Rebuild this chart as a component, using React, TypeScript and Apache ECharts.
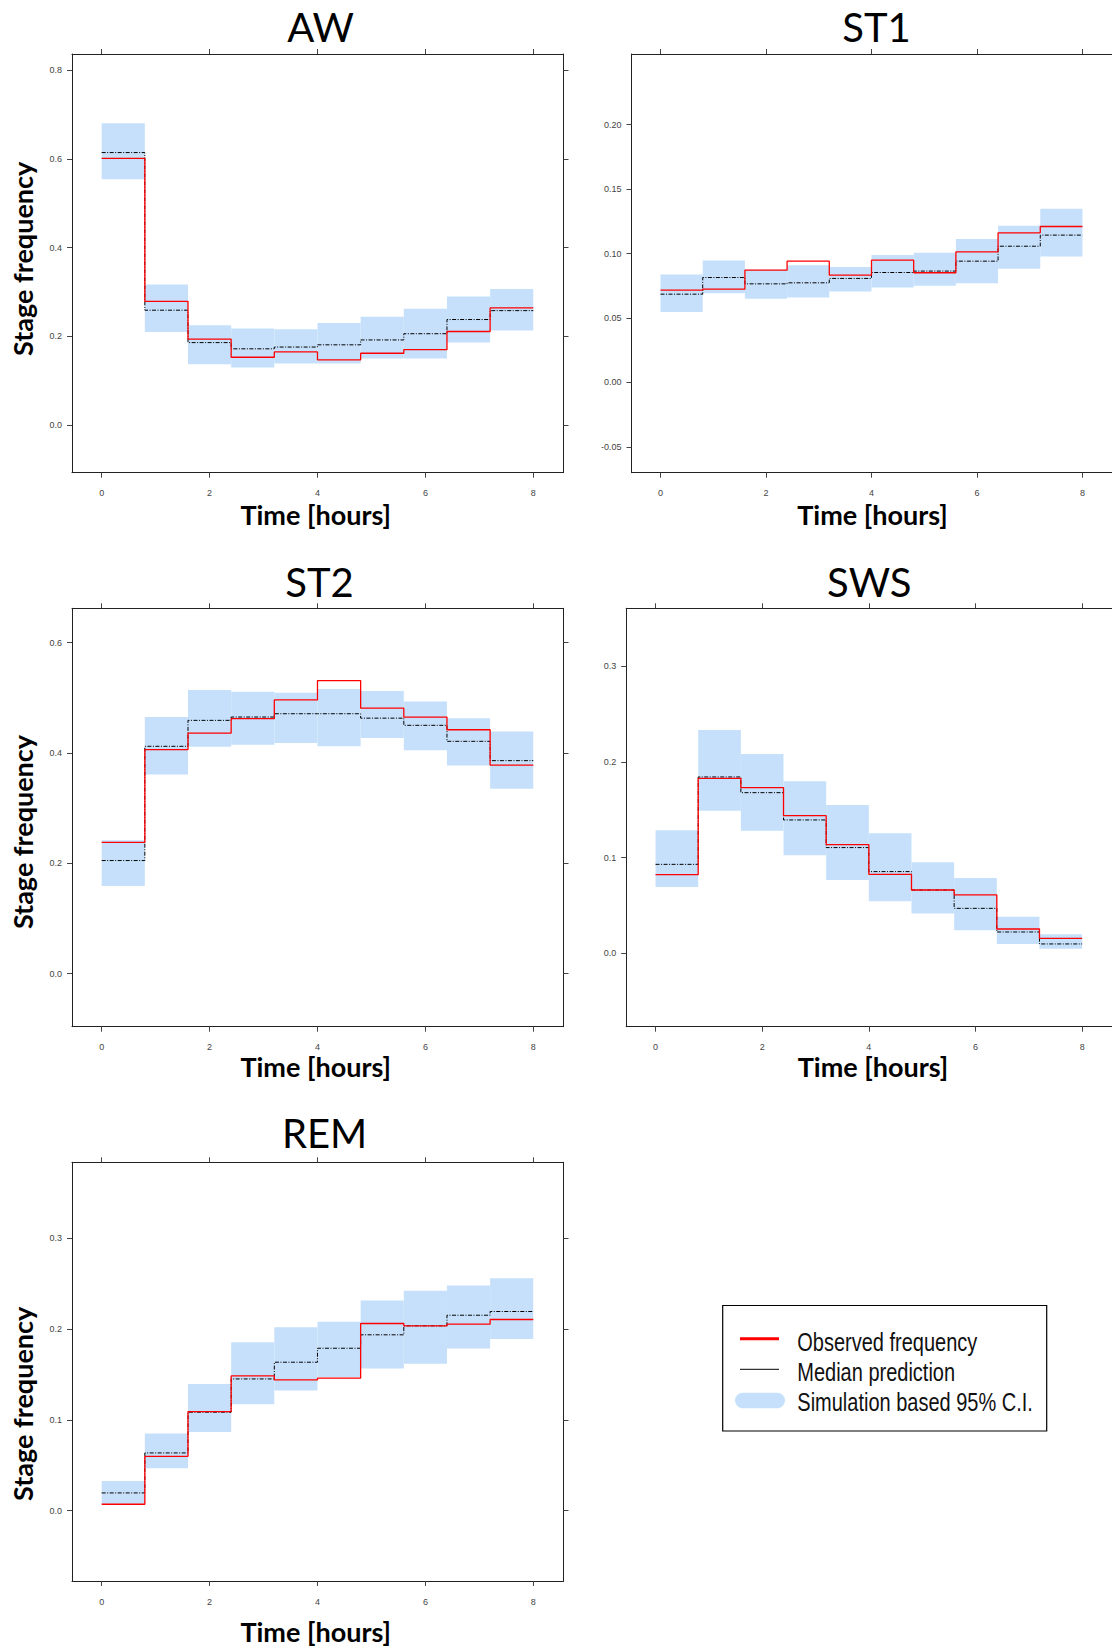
import React, { useEffect, useRef } from "react";
import * as echarts from "echarts";

// ---- data ----
const binEdges = [0, 0.8, 1.6, 2.4, 3.2, 4.0, 4.8, 5.6, 6.4, 7.2, 8.0];
const xTicks = [0, 2, 4, 6, 8];

const awObserved = [0.601, 0.279, 0.194, 0.153, 0.165, 0.147, 0.162, 0.17, 0.211, 0.264];
const awMedian = [0.614, 0.259, 0.186, 0.172, 0.176, 0.181, 0.192, 0.206, 0.238, 0.258];
const awLower = [0.554, 0.21, 0.137, 0.13, 0.139, 0.139, 0.15, 0.15, 0.186, 0.213];
const awUpper = [0.68, 0.317, 0.225, 0.218, 0.216, 0.23, 0.244, 0.262, 0.29, 0.307];
const awTicks = [0, 0.2, 0.4, 0.6, 0.8];

const st1Observed = [0.0716, 0.0724, 0.0871, 0.0941, 0.0832, 0.0949, 0.0851, 0.1013, 0.1161, 0.121];
const st1Median = [0.0685, 0.0814, 0.0765, 0.0773, 0.0807, 0.0853, 0.0864, 0.0941, 0.1057, 0.1143];
const st1Lower = [0.0546, 0.0693, 0.0649, 0.0659, 0.0706, 0.0737, 0.075, 0.077, 0.0882, 0.0977];
const st1Upper = [0.0838, 0.0946, 0.0874, 0.091, 0.0895, 0.0988, 0.1006, 0.1112, 0.1215, 0.1347];
const st1Ticks = [-0.05, 0, 0.05, 0.1, 0.15, 0.2];

const st2Observed = [0.238, 0.406, 0.436, 0.462, 0.496, 0.531, 0.481, 0.465, 0.442, 0.378];
const st2Median = [0.205, 0.412, 0.459, 0.465, 0.471, 0.471, 0.463, 0.45, 0.421, 0.386];
const st2Lower = [0.159, 0.361, 0.411, 0.415, 0.418, 0.412, 0.427, 0.405, 0.377, 0.335];
const st2Upper = [0.242, 0.465, 0.514, 0.511, 0.509, 0.516, 0.512, 0.493, 0.463, 0.439];
const st2Ticks = [0, 0.2, 0.4, 0.6];

const swsObserved = [0.0822, 0.1829, 0.1732, 0.1439, 0.1136, 0.0826, 0.0662, 0.061, 0.0254, 0.0157];
const swsMedian = [0.093, 0.1843, 0.1679, 0.1394, 0.1105, 0.0854, 0.0662, 0.047, 0.0223, 0.0098];
const swsLower = [0.0693, 0.1491, 0.1282, 0.1024, 0.0767, 0.0544, 0.0415, 0.024, 0.0098, 0.0049];
const swsUpper = [0.1286, 0.2334, 0.2084, 0.1798, 0.1551, 0.1254, 0.0951, 0.0787, 0.0383, 0.0199];
const swsTicks = [0, 0.1, 0.2, 0.3];

const remObserved = [0.007, 0.0599, 0.1092, 0.1485, 0.1441, 0.146, 0.2063, 0.2037, 0.2055, 0.2107];
const remMedian = [0.0195, 0.0636, 0.1085, 0.1452, 0.1636, 0.179, 0.1938, 0.2037, 0.2154, 0.2195];
const remLower = [0.0074, 0.0467, 0.0868, 0.1173, 0.1324, 0.1471, 0.1566, 0.1618, 0.1787, 0.1893];
const remUpper = [0.0327, 0.0849, 0.1397, 0.1857, 0.2022, 0.2081, 0.2316, 0.2423, 0.2482, 0.2563];
const remTicks = [0, 0.1, 0.2, 0.3];

const panelNames = ["AW", "ST1", "ST2", "SWS", "REM"];
const legendLabels = ["Observed frequency", "Median prediction", "Simulation based 95% C.I."];
const xAxisTitle = "Time [hours]";
const yAxisTitle = "Stage frequency";

// ---- layout / style ----
const BAND = "#C6E0FB";
const X_MIN = -0.55;
const X_MAX = 8.56;

const panels = [
  { name: panelNames[0], obs: awObserved, med: awMedian, lo: awLower, hi: awUpper, ticks: awTicks, dec: 1,
    yMin: -0.107, yMax: 0.836, left: 72, top: 54, width: 491.5, height: 418.7,
    title: [320.6, 26.7], xName: [315.7, 514.5], yName: [22.5, 258.8] },
  { name: panelNames[1], obs: st1Observed, med: st1Median, lo: st1Lower, hi: st1Upper, ticks: st1Ticks, dec: 2,
    yMin: -0.07, yMax: 0.2548, left: 631.5, top: 54, width: 486.2, height: 418.7,
    title: [876.5, 26.7], xName: [872.5, 514.5], yName: null },
  { name: panelNames[2], obs: st2Observed, med: st2Median, lo: st2Lower, hi: st2Upper, ticks: st2Ticks, dec: 1,
    yMin: -0.096, yMax: 0.662, left: 72, top: 608.3, width: 491.5, height: 418.4,
    title: [319.5, 581.7], xName: [315.7, 1066.5], yName: [22.5, 832] },
  { name: panelNames[3], obs: swsObserved, med: swsMedian, lo: swsLower, hi: swsUpper, ticks: swsTicks, dec: 1,
    yMin: -0.0767, yMax: 0.3606, left: 626.2, top: 608.3, width: 491.2, height: 418.4,
    title: [869.3, 581.7], xName: [873, 1066.5], yName: null },
  { name: panelNames[4], obs: remObserved, med: remMedian, lo: remLower, hi: remUpper, ticks: remTicks, dec: 1,
    yMin: -0.0776, yMax: 0.384, left: 72, top: 1162.3, width: 491.5, height: 418.7,
    title: [324.6, 1133.3], xName: [315.7, 1631.5], yName: [22.5, 1403.8] },
];

function stepData(vals: number[]) {
  const d: number[][] = vals.map((v, i) => [binEdges[i], v]);
  d.push([binEdges[binEdges.length - 1], vals[vals.length - 1]]);
  return d;
}

function buildOption() {
  const grid: any[] = [];
  const xAxis: any[] = [];
  const yAxis: any[] = [];
  const series: any[] = [];
  const graphic: any[] = [];
  const tickLabelFont = "'Liberation Sans Narrow', 'Liberation Sans', Arial, sans-serif";

  panels.forEach((p, gi) => {
    grid.push({ left: p.left, top: p.top, width: p.width, height: p.height, containLabel: false });
    const axisLine = { show: true, onZero: false, lineStyle: { color: "#222", width: 1 } };
    const tick = { show: true, inside: false, length: 5, lineStyle: { color: "#444", width: 1 } };
    xAxis.push({
      type: "value", gridIndex: gi, position: "bottom", min: X_MIN, max: X_MAX,
      axisLine, splitLine: { show: false },
      axisTick: { ...tick, customValues: xTicks },
      axisLabel: { show: true, customValues: xTicks, margin: 16, fontSize: 9, color: "#444",
        fontFamily: tickLabelFont, formatter: (v: number) => String(v) },
    });
    xAxis.push({
      type: "value", gridIndex: gi, position: "top", min: X_MIN, max: X_MAX,
      axisLine, splitLine: { show: false },
      axisTick: { ...tick, customValues: xTicks },
      axisLabel: { show: false },
    });
    yAxis.push({
      type: "value", gridIndex: gi, position: "left", min: p.yMin, max: p.yMax,
      axisLine, splitLine: { show: false },
      axisTick: { ...tick, customValues: p.ticks },
      axisLabel: { show: true, customValues: p.ticks, margin: 10, fontSize: 9, color: "#444",
        fontFamily: tickLabelFont, formatter: (v: number) => v.toFixed(p.dec) },
    });
    yAxis.push({
      type: "value", gridIndex: gi, position: "right", min: p.yMin, max: p.yMax,
      axisLine, splitLine: { show: false },
      axisTick: { ...tick, customValues: p.ticks },
      axisLabel: { show: false },
    });

    const xi = gi * 2;
    const yi = gi * 2;
    series.push({
      type: "custom", xAxisIndex: xi, yAxisIndex: yi, z: 1,
      data: p.lo.map((l, i) => [binEdges[i], binEdges[i + 1], l, p.hi[i]]),
      encode: { x: [0, 1], y: [2, 3] },
      renderItem: (params: any, api: any) => {
        const a = api.coord([api.value(0), api.value(3)]);
        const b = api.coord([api.value(1), api.value(2)]);
        return {
          type: "rect",
          shape: { x: a[0], y: a[1], width: b[0] - a[0], height: b[1] - a[1] },
          style: { fill: BAND },
        };
      },
      silent: true,
    });
    series.push({
      type: "line", xAxisIndex: xi, yAxisIndex: yi, z: 3, step: "end", symbol: "none",
      data: stepData(p.med),
      lineStyle: { color: "#000", width: 1, type: [4, 1.5, 1, 1.5] },
      silent: true,
    });
    series.push({
      type: "line", xAxisIndex: xi, yAxisIndex: yi, z: 4, step: "end", symbol: "none",
      data: stepData(p.obs),
      lineStyle: { color: "#FF0000", width: 1.3 },
      silent: true,
    });

    graphic.push({
      type: "text", x: p.title[0], y: p.title[1],
      style: { text: p.name, fontFamily: "Lato, 'Open Sans', sans-serif", fontSize: 40, fill: "#000",
        align: "center", verticalAlign: "middle" },
    });
    graphic.push({
      type: "text", x: p.xName[0], y: p.xName[1],
      style: { text: xAxisTitle, fontFamily: "Lato, 'Open Sans', sans-serif", fontWeight: "bold", fontSize: 27,
        fill: "#000", align: "center", verticalAlign: "middle" },
    });
    if (p.yName) {
      graphic.push({
        type: "text", x: p.yName[0], y: p.yName[1], rotation: Math.PI / 2,
        style: { text: yAxisTitle, fontFamily: "Lato, 'Open Sans', sans-serif", fontWeight: "bold", fontSize: 27,
          fill: "#000", align: "center", verticalAlign: "middle" },
      });
    }
  });

  // legend
  graphic.push({
    type: "rect", shape: { x: 722.7, y: 1305.5, width: 324, height: 125.5 },
    style: { fill: "#fff", stroke: "#000", lineWidth: 1.2 },
  });
  graphic.push({
    type: "line", shape: { x1: 740, y1: 1338.7, x2: 779, y2: 1338.7 },
    style: { stroke: "#FF0000", lineWidth: 3 },
  });
  graphic.push({
    type: "line", shape: { x1: 740, y1: 1369.3, x2: 779, y2: 1369.3 },
    style: { stroke: "#000", lineWidth: 1 },
  });
  graphic.push({
    type: "rect", shape: { x: 735, y: 1392.7, width: 50, height: 15.6, r: 7.8 },
    style: { fill: BAND },
  });
  const legendY = [1342.5, 1372.8, 1402.5];
  legendLabels.forEach((t, i) => {
    graphic.push({
      type: "text", x: 797.3, y: legendY[i], scaleX: 0.8,
      style: { text: t, fontFamily: "'Liberation Sans', Arial, sans-serif", fontSize: 25, fill: "#111",
        align: "left", verticalAlign: "middle" },
    });
  });

  return { animation: false, backgroundColor: "#fff", grid, xAxis, yAxis, series, graphic };
}

export default function App() {
  const ref = useRef<HTMLDivElement>(null);
  useEffect(() => {
    if (!ref.current) return;
    const chart = echarts.init(ref.current, undefined, { renderer: "svg" });
    chart.setOption(buildOption() as any);
    return () => chart.dispose();
  }, []);
  return (
    <div
      ref={ref}
      style={{ position: "absolute", left: 0, top: 0, width: 1112, height: 1650, background: "#fff" }}
    />
  );
}
